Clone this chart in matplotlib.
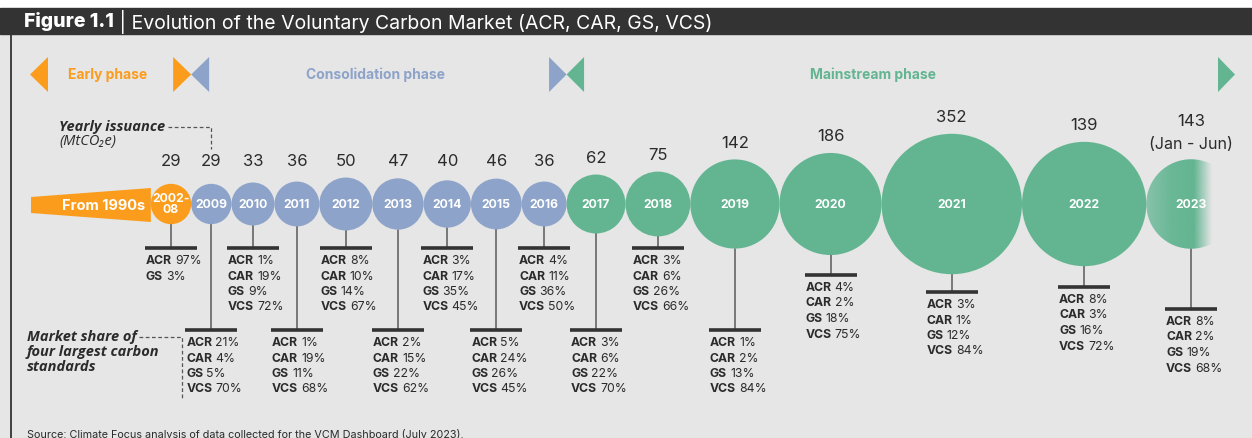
import matplotlib
matplotlib.use('Agg')
import matplotlib.pyplot as plt
from matplotlib.patches import Circle, Polygon, Rectangle
import numpy as np

# ---------------- data ----------------
years = ['2002-\n08', '2009', '2010', '2011', '2012', '2013', '2014', '2015',
         '2016', '2017', '2018', '2019', '2020', '2021', '2022', '2023']
issuance = [29, 29, 33, 36, 50, 47, 40, 46, 36, 62, 75, 142, 186, 352, 139, 143]
# bubble area as drawn in the picture (2022 bubble is drawn larger than its label)
bubble_area = [29, 29, 33, 36, 50, 47, 40, 46, 36, 62, 75, 142, 186, 352, 276, 143]
issuance_note = [''] * 15 + ['(Jan - Jun)']
phase = ['early'] + ['consolidation'] * 8 + ['mainstream'] * 7
standards = ['ACR', 'CAR', 'GS', 'VCS']
share_acr = [97, 21, 1, 1, 8, 2, 3, 5, 4, 3, 3, 1, 4, 3, 8, 8]
share_car = [None, 4, 19, 19, 10, 15, 17, 24, 11, 6, 6, 2, 2, 1, 3, 2]
share_gs = [3, 5, 9, 11, 14, 22, 35, 26, 36, 22, 26, 13, 18, 12, 16, 19]
share_vcs = [None, 70, 72, 68, 67, 62, 45, 45, 50, 70, 66, 84, 75, 84, 72, 68]
phase_names = ['Early phase', 'Consolidation phase', 'Mainstream phase']
title_bold = 'Figure 1.1'
title_rest = ' | Evolution of the Voluntary Carbon Market (ACR, CAR, GS, VCS)'
source = 'Source: Climate Focus analysis of data collected for the VCM Dashboard (July 2023).'

# ---------------- style / layout ----------------
W, H = 1252, 438
BG = '#e6e6e6'
DARK = '#333333'
TXT = '#2b2b2b'
COL = {'early': '#fb9c1c', 'consolidation': '#8da3c9', 'mainstream': '#63b592'}
FONT = ['Inter', 'DejaVu Sans']
IFONT = ['Open Sans', 'DejaVu Sans']
K = 3.742         # px per sqrt(MtCO2e)
CY = 204
X0 = 171
bar_y = [248, 330, 248, 330, 248, 330, 248, 330, 248, 330, 248, 330, 275, 292, 287, 309]

fig = plt.figure(figsize=(W / 100, H / 100), dpi=100, facecolor=BG)
ax = fig.add_axes([0, 0, 1, 1])
ax.set_xlim(0, W)
ax.set_ylim(H, 0)
ax.axis('off')
ax.set_facecolor(BG)
renderer = fig.canvas.get_renderer()


def width(t):
    return t.get_window_extent(renderer=renderer).width


# title bar
ax.add_patch(Rectangle((0, 0), W, 8, color='white', zorder=0))
ax.add_patch(Rectangle((0, 8), W, 26, color=DARK, zorder=1))
t = ax.text(24, 21.5, title_bold, color='white', fontsize=14.0, weight='heavy',
            family=FONT, va='center', ha='left', zorder=2)
ax.text(24 + width(t), 21.5, title_rest, color='white', fontsize=14.0,
        family=FONT, va='center', ha='left', zorder=2)
ax.plot([11, 11], [34, H], color=DARK, lw=1.3, zorder=1)

# bubble geometry
radii = [K * np.sqrt(v) for v in bubble_area]
cx = [X0]
for i in range(1, len(radii)):
    cx.append(cx[-1] + radii[i - 1] + radii[i])

# "From 1990s" wedge
ax.add_patch(Polygon([(31, 197), (cx[0] - radii[0], 188), (cx[0] - radii[0], 222), (31, 213)],
                     closed=True, color=COL['early'], lw=0, zorder=2))
ax.text(145, 205.5, 'From 1990s', color='white', fontsize=10.5, weight='bold',
        family=FONT, ha='right', va='center', zorder=3)

# bubbles
for i, (x, r, yr, ph) in enumerate(zip(cx, radii, years, phase)):
    if i == len(cx) - 1:
        circ = Circle((x, CY), r, facecolor='none', edgecolor='none', zorder=2)
        ax.add_patch(circ)
        xs = np.linspace(x - r, x + r, 200)
        alpha = np.interp(xs, [x - r, x - r + 25, x, x + 3, x + 21], [0.72, 0.95, 1.0, 1.0, 0.0])
        rgb = matplotlib.colors.to_rgb(COL[ph])
        img = np.zeros((1, len(xs), 4))
        img[0, :, :3] = rgb
        img[0, :, 3] = alpha
        im = ax.imshow(img, extent=(x - r, x + r, CY + r, CY - r), aspect='auto',
                       zorder=2, interpolation='bilinear')
        im.set_clip_path(circ)
    else:
        ax.add_patch(Circle((x, CY), r, color=COL[ph], lw=0, zorder=2))
    ax.text(x, CY + 0.5, yr, color='white', fontsize=8.8, weight='bold', family=FONT,
            ha='center', va='center', linespacing=0.8, zorder=4)
    # issuance value above bubble
    ly = min(162, CY - r - 16)
    if issuance_note[i]:
        ax.text(x, ly + 1.5, issuance_note[i], color=TXT, fontsize=11.5, family=FONT,
                ha='center', va='center', zorder=4)
        ly -= 21.5
    ax.text(x, ly, str(issuance[i]), color=TXT, fontsize=12, family=FONT,
            ha='center', va='center', zorder=4)

ax.set_xlim(0, W)
ax.set_ylim(H, 0)

# market share labels
for i, x in enumerate(cx):
    r = radii[i]
    by = bar_y[i]
    ax.plot([x, x], [CY + r, by], color='#5a5a5a', lw=1.1, zorder=1)
    ax.plot([x - 26, x + 26], [by, by], color=DARK, lw=2.6, solid_capstyle='butt', zorder=3)
    vals = [share_acr[i], share_car[i], share_gs[i], share_vcs[i]]
    k = 0
    for std, v in zip(standards, vals):
        if v is None:
            continue
        yy = by + 13 + 15.5 * k
        tb = ax.text(x - 25, yy, std, color=TXT, fontsize=8.8, weight='bold', family=FONT,
                     ha='left', va='center', zorder=4)
        ax.text(x - 25 + width(tb) + 3, yy, f'{v}%', color=TXT, fontsize=8.8, family=FONT,
                ha='left', va='center', zorder=4)
        k += 1

# phase band
TOP, BOT, MID = 57, 92, 74.5
ax.add_patch(Polygon([(30, MID), (48, TOP), (48, BOT)], color=COL['early'], lw=0))
b1 = cx[0] + radii[0]
ax.add_patch(Polygon([(b1 - 18, TOP), (b1 - 18, BOT), (b1, MID)], color=COL['early'], lw=0))
ax.add_patch(Polygon([(b1, MID), (b1 + 18, TOP), (b1 + 18, BOT)], color=COL['consolidation'], lw=0))
b2 = cx[8] + radii[8]
ax.add_patch(Polygon([(b2 - 17.5, TOP), (b2 - 17.5, BOT), (b2, MID)], color=COL['consolidation'], lw=0))
ax.add_patch(Polygon([(b2, MID), (b2 + 17.5, TOP), (b2 + 17.5, BOT)], color=COL['mainstream'], lw=0))
ax.add_patch(Polygon([(1218, TOP), (1218, BOT), (1235, MID)], color=COL['mainstream'], lw=0))
for name, xc, c in zip(phase_names, [107.5, 375.5, 872.5],
                       [COL['early'], COL['consolidation'], COL['mainstream']]):
    ax.text(xc, MID, name, color=c, fontsize=10, weight='bold', family=FONT,
            ha='center', va='center')

# annotations
t1 = ax.text(59, 127, 'Yearly issuance', color=TXT, fontsize=10.5, weight='bold',
             style='italic', family=IFONT, ha='left', va='center')
ax.text(59, 142, '(MtCO\u2082e)', color=TXT, fontsize=10.5, style='italic',
        family=IFONT, ha='left', va='center')
x_end = 59 + width(t1) + 3
ax.plot([x_end, cx[1], cx[1]], [127, 127, 149], color='#555555', lw=0.9,
        dashes=(3, 2))

t2 = ax.text(27, 337, 'Market share of', color=TXT, fontsize=10.5, weight='bold',
             style='italic', family=IFONT, ha='left', va='center')
ax.text(27, 352, 'four largest carbon', color=TXT, fontsize=10.5, weight='bold',
        style='italic', family=IFONT, ha='left', va='center')
ax.text(27, 367, 'standards', color=TXT, fontsize=10.5, weight='bold',
        style='italic', family=IFONT, ha='left', va='center')
x_end2 = 27 + width(t2) + 2
ax.plot([x_end2, 182, 182], [337, 337, 398], color='#555555', lw=0.9, dashes=(3, 2))

ax.text(27, 434, source, color=TXT, fontsize=7.8, family=FONT, ha='left', va='center')

fig.savefig('out.png', dpi=100, facecolor=BG)
